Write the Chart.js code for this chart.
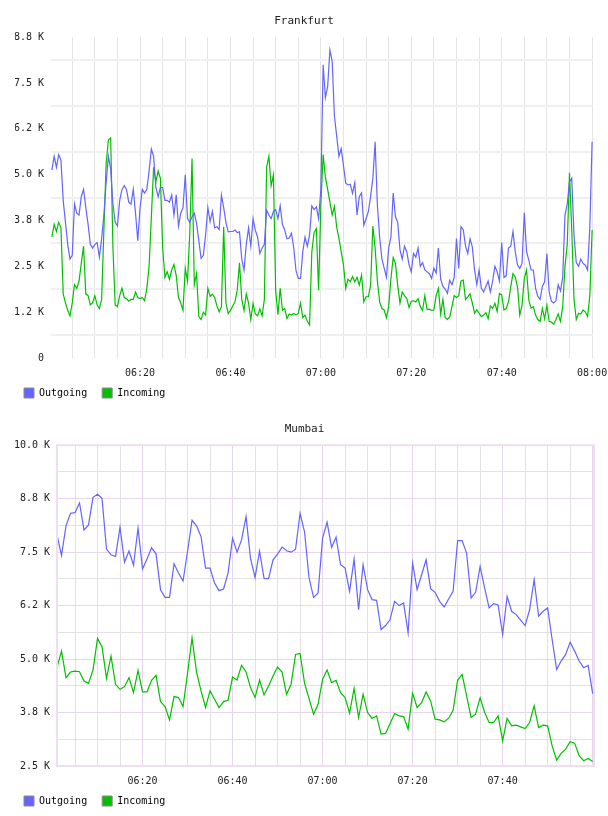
<!DOCTYPE html>
<html>
<head>
<meta charset="utf-8">
<script src="https://cdn.jsdelivr.net/npm/chart.js@4.4.1/dist/chart.umd.min.js"></script>
<style>
  html, body { margin: 0; padding: 0; background: #fff; }
  .box { width: 608px; height: 408px; }
</style>
</head>
<body>
<div class="box"><canvas id="frankfurtChart" width="608" height="408"></canvas></div>
<div class="box"><canvas id="mumbaiChart" width="608" height="408"></canvas></div>
<script>
// samples every 30 s from 06:00:30
var frankfurtOutgoing = [
  5125, 5500, 5200, 5550, 5400, 4300, 3700, 3100, 2700, 2800,
  4200, 3950, 3900, 4400, 4600, 4100, 3650, 3100, 3000, 3100,
  3150, 2750, 3250, 3900, 4800, 5500, 5150, 4200, 3700, 3600,
  4300, 4600, 4700, 4600, 4250, 4200, 4600, 3950, 3200, 4100,
  4600, 4500, 4600, 5100, 5700, 5500, 4650, 4400, 4650, 4650,
  4300, 4300, 4250, 4450, 3900, 4450, 3600, 3950, 4100, 5000,
  3800, 3700, 3850, 3950, 3670, 3200, 2720, 2800, 3350, 4100,
  3720, 4000, 3550, 3580, 3500, 4440, 4100, 3700, 3440, 3450,
  3450, 3490, 3420, 3440, 2700, 2400, 3100, 3550, 3050, 3800,
  3480, 3300, 2850, 3000, 3100, 4035, 3900, 3800, 4000, 4050,
  3800, 4150, 3640, 3490, 3250, 3270, 3400, 3000, 2380, 2170,
  2170, 2900, 3300, 3050, 3350, 4150, 4050, 4125, 3800, 4600,
  8000, 7100, 7400, 8400, 8100, 6600, 6050, 5500, 5710, 5250,
  4770, 4720, 4740, 4490, 4780, 3900, 4400, 4500, 3620, 3800,
  3990, 4400, 4900, 5900, 4170, 3300, 2700, 2450, 2200, 3000,
  3300, 4500, 3850, 3700, 2950, 2700, 3050, 2900, 2550, 2350,
  2850, 2750, 3000, 2500, 2600, 2400, 2350, 2300, 2170, 2450,
  2320, 3000, 2150, 1950, 1880, 1760, 2120, 2000, 2200, 3260,
  2440, 3580, 3500, 3050, 2850, 3250, 3030, 2400, 2000, 2400,
  1900, 1800, 1950, 2100, 1800, 2100, 2500, 2350, 2100, 3150,
  2200, 2240, 3000, 3050, 3450, 2900, 2540, 2440, 2580, 3960,
  2900, 2670, 2400, 2400, 1900, 1680, 1600, 1950, 2080, 2850,
  1800, 1550, 1500, 1560, 2000, 1830, 2200, 3900, 4200, 4800,
  4900, 3350, 2600, 2500, 2700, 2580, 2530, 2400, 3580, 5900
];
var frankfurtIncoming = [
  3300, 3650, 3450, 3700, 3550, 1750, 1500, 1300, 1150, 1500,
  2000, 1900, 2100, 2580, 3050, 1750, 1700, 1450, 1500, 1700,
  1450, 1350, 1600, 3500, 5300, 5950, 6000, 3000, 1450, 1400,
  1700, 1900, 1650, 1620, 1550, 1600, 1600, 1800, 1650, 1620,
  1650, 1560, 1900, 2500, 3850, 5200, 4800, 5100, 4900, 3000,
  2200, 2350, 2150, 2400, 2550, 2250, 1650, 1500, 1300, 2450,
  2100, 3400, 5440, 2000, 2300, 1130, 1050, 1250, 1170, 1900,
  1680, 1740, 1650, 1420, 1260, 1400, 3580, 1500, 1215, 1300,
  1420, 1530, 1850, 2600, 1600, 1300, 1750, 1500, 1050, 1490,
  1200, 1150, 1340, 1150, 1600, 5200, 5500, 4700, 4990, 1850,
  1180, 1900, 1300, 1350, 1080, 1200, 1170, 1215, 1180, 1215,
  1500, 1100, 1170, 1000, 900, 2900, 3420, 3530, 1850, 4200,
  5550, 4940, 4600, 4250, 3900, 4130, 3570, 3260, 2900, 2540,
  1900, 2150, 2080, 2220, 2080, 2200, 1990, 2260, 1530, 1670,
  1670, 1980, 3600, 3000, 2100, 1530, 1350, 1310, 1100, 1400,
  2170, 2740, 2580, 1980, 1500, 1800, 1700, 1620, 1380, 1550,
  1560, 1530, 1620, 1400, 1300, 1700, 1320, 1330, 1300, 1310,
  1700, 1900, 1200, 1600, 1100, 1050, 1120, 1400, 1700, 1650,
  1700, 2100, 2125, 1600, 1670, 1750, 1500, 1220, 1320, 1220,
  1130, 1170, 1240, 1070, 1420, 1350, 1490, 1270, 1760, 1720,
  1310, 1350, 1530, 1940, 2300, 2210, 1940, 1170, 1440, 2170,
  2400, 1580, 1360, 1400, 1170, 1050, 1000, 1350, 1070, 1440,
  1000, 980, 920, 1050, 1200, 1000, 1400, 2500, 3100, 5050,
  3500, 1600, 1050, 1220, 1200, 1310, 1260, 1130, 1700, 3490
];

// samples every minute from 06:01
var mumbaiOutgoing = [
  7904, 7422, 8113, 8409, 8423, 8649, 8020, 8136, 8782, 8852,
  8758, 7570, 7438, 7399, 8082, 7267, 7524, 7197, 8059, 7104,
  7337, 7601, 7461, 6622, 6443, 6443, 7228, 7011, 6825, 7515,
  8245, 8113, 7864, 7127, 7127, 6779, 6599, 6638, 7011, 7827,
  7500, 7787, 8330, 7345, 6909, 7524, 6887, 6880, 7321, 7454,
  7617, 7531, 7500, 7570, 8409, 7966, 6895, 6443, 6545, 7827,
  8199, 7609, 7850, 7205, 7127, 6584, 7337, 6157, 7205, 6622,
  6390, 6373, 5691, 5784, 5924, 6350, 6250, 6312, 5614, 7244,
  6622, 6972, 7321, 6646, 6560, 6350, 6219, 6405, 6584, 7771,
  7771, 7477, 6428, 6560, 7166, 6662, 6196, 6296, 6265, 5574,
  6467, 6117, 6040, 5908, 5784, 6157, 6855, 6001, 6117, 6196,
  5458, 4759, 4953, 5108, 5395, 5186, 4953, 4798, 4852, 4193
];
var mumbaiIncoming = [
  4798, 5186, 4565, 4697, 4720, 4705, 4487, 4433, 4744, 5481,
  5287, 4550, 5069, 4410, 4293, 4355, 4565, 4216, 4736, 4231,
  4231, 4503, 4619, 4006, 3890, 3578, 4123, 4100, 3890, 4666,
  5496, 4697, 4255, 3867, 4255, 4060, 3867, 4006, 4037, 4580,
  4510, 4852, 4697, 4332, 4100, 4510, 4162, 4371, 4604, 4813,
  4697, 4177, 4410, 5108, 5132, 4433, 4076, 3711, 3944, 4526,
  4744, 4449, 4503, 4216, 4100, 3734, 4316, 3634, 4177, 3750,
  3611, 3672, 3245, 3261, 3494, 3727, 3672, 3656, 3361, 4200,
  3867, 3983, 4231, 4021, 3594, 3578, 3531, 3618, 3804, 4503,
  4643, 4138, 3634, 3711, 4092, 3750, 3517, 3517, 3672, 3089,
  3611, 3439, 3455, 3415, 3377, 3517, 3906, 3400, 3455, 3439,
  2972, 2639, 2795, 2895, 3066, 3035, 2740, 2624, 2678, 2608
];

var seriesNames = ['Outgoing', 'Incoming'];
var frankfurtYLabels = ['0', '1.2 K', '2.5 K', '3.8 K', '5.0 K', '6.2 K', '7.5 K', '8.8 K'];
var mumbaiYLabels = ['2.5 K', '3.8 K', '5.0 K', '6.2 K', '7.5 K', '8.8 K', '10.0 K'];
var frankfurtXLabels = ['06:20', '06:40', '07:00', '07:20', '07:40', '08:00'];
var mumbaiXLabels = ['06:20', '06:40', '07:00', '07:20', '07:40'];

var OUT_COLOR = '#6464ff';
var IN_COLOR = '#00c000';
var FONT = "'DejaVu Sans Mono', monospace";

function pad2(n) { return (n < 10 ? '0' : '') + n; }
function hhmm(min) {
    var total = Math.round(min);
    return pad2(6 + Math.floor(total / 60)) + ':' + pad2(total % 60);
}

function toPoints(values, start, step) {
    return values.map(function(v, i) { return {x: start + i * step, y: v}; });
}

var legendOpts = {
    position: 'bottom',
    align: 'start',
    labels: {
        boxWidth: 10,
        boxHeight: 10,
        padding: 9,
        color: '#222',
        font: {family: FONT, size: 10},
        generateLabels: function(chart) {
            var n = chart.data.datasets.length;
            return chart.data.datasets.map(function(ds, i) {
                return {
                    // trailing space widens the gap to the next item
                    text: i < n - 1 ? ds.label + ' ' : ds.label,
                    fillStyle: ds.borderColor,
                    strokeStyle: '#8a8a8a',
                    lineWidth: 1,
                    hidden: !chart.isDatasetVisible(i),
                    datasetIndex: i
                };
            });
        }
    }
};

function titleOpts(text) {
    return {
        display: true,
        text: text,
        color: '#222',
        font: {family: FONT, size: 11, weight: 'normal'},
        padding: {top: 15, bottom: 9}
    };
}

function xAxisFit(scale) {
    scale.height = 21;
    scale.paddingLeft = 0;
    scale.paddingRight = 0;
}

function makeDatasets(outVals, inVals, start, step) {
    return [
        {label: seriesNames[0], data: toPoints(outVals, start, step), borderColor: OUT_COLOR, backgroundColor: OUT_COLOR, borderWidth: 1.2, pointRadius: 0, tension: 0},
        {label: seriesNames[1], data: toPoints(inVals, start, step), borderColor: IN_COLOR, backgroundColor: IN_COLOR, borderWidth: 1.2, pointRadius: 0, tension: 0}
    ];
}

// Frankfurt
new Chart(document.getElementById('frankfurtChart').getContext('2d'), {
    type: 'line',
    data: {datasets: makeDatasets(frankfurtOutgoing, frankfurtIncoming, 0.5, 0.5)},
    options: {
        responsive: false,
        animation: false,
        layout: {padding: {left: 15, right: 15, top: 0, bottom: 0}},
        plugins: {title: titleOpts('Frankfurt'), legend: legendOpts, tooltip: {enabled: false}},
        scales: {
            x: {
                type: 'linear',
                min: 0.3,
                max: 120.2,
                afterFit: xAxisFit,
                border: {display: false},
                grid: {color: '#e4e4e4', lineWidth: 1, drawTicks: false},
                ticks: {
                    stepSize: 5,
                    includeBounds: false,
                    autoSkip: false,
                    maxRotation: 0,
                    padding: 9,
                    color: '#222',
                    font: {family: FONT, size: 10},
                    callback: function(v) {
                        var s = hhmm(v);
                        return frankfurtXLabels.indexOf(s) >= 0 && v % 20 === 0 ? s : '';
                    }
                }
            },
            y: {
                min: 0,
                max: 8750,
                afterFit: function(scale) { scale.width = 36; },
                border: {display: false},
                grid: {color: '#f0f0f0', lineWidth: 2, drawTicks: false, offset: true},
                ticks: {
                    stepSize: 1250,
                    padding: 7,
                    color: '#222',
                    font: {family: FONT, size: 10},
                    callback: function(v) { return frankfurtYLabels[Math.round(v / 1250)]; }
                }
            }
        }
    }
});

// Mumbai
var MAJOR_GRID = '#e8d4ec';
var MINOR_GRID = '#e4e0e4';

var frameBorder = {
    id: 'frameBorder',
    afterDraw: function(chart) {
        var a = chart.chartArea;
        var ctx = chart.ctx;
        ctx.save();
        ctx.strokeStyle = '#eedff0';
        ctx.lineWidth = 2;
        ctx.strokeRect(a.left, a.top, a.right - a.left, a.bottom - a.top);
        ctx.restore();
    }
};

new Chart(document.getElementById('mumbaiChart').getContext('2d'), {
    type: 'line',
    data: {datasets: makeDatasets(mumbaiOutgoing, mumbaiIncoming, 1, 1)},
    plugins: [frameBorder],
    options: {
        responsive: false,
        animation: false,
        layout: {padding: {left: 15, right: 14, top: 0, bottom: 0}},
        plugins: {title: titleOpts('Mumbai'), legend: legendOpts, tooltip: {enabled: false}},
        scales: {
            x: {
                type: 'linear',
                min: 1,
                max: 120.3,
                afterFit: xAxisFit,
                border: {display: false},
                grid: {
                    drawTicks: false,
                    lineWidth: 1,
                    color: function(ctx) {
                        return ctx.tick && ctx.tick.value % 20 === 0 ? MAJOR_GRID : MINOR_GRID;
                    }
                },
                ticks: {
                    stepSize: 5,
                    includeBounds: false,
                    autoSkip: false,
                    maxRotation: 0,
                    padding: 9,
                    color: '#222',
                    font: {family: FONT, size: 10},
                    callback: function(v) {
                        var s = hhmm(v);
                        return mumbaiXLabels.indexOf(s) >= 0 && v % 20 === 0 ? s : '';
                    }
                }
            },
            y: {
                min: 2500,
                max: 10000,
                afterFit: function(scale) { scale.width = 42; },
                border: {display: false},
                grid: {
                    drawTicks: false,
                    lineWidth: 1,
                    color: function(ctx) {
                        return ctx.tick && (ctx.tick.value - 2500) % 1250 === 0 ? MAJOR_GRID : MINOR_GRID;
                    }
                },
                ticks: {
                    stepSize: 625,
                    autoSkip: false,
                    padding: 7,
                    color: '#222',
                    font: {family: FONT, size: 10},
                    callback: function(v) {
                        return (v - 2500) % 1250 === 0 ? mumbaiYLabels[(v - 2500) / 1250] : '';
                    }
                }
            }
        }
    }
});
</script>
</body>
</html>
